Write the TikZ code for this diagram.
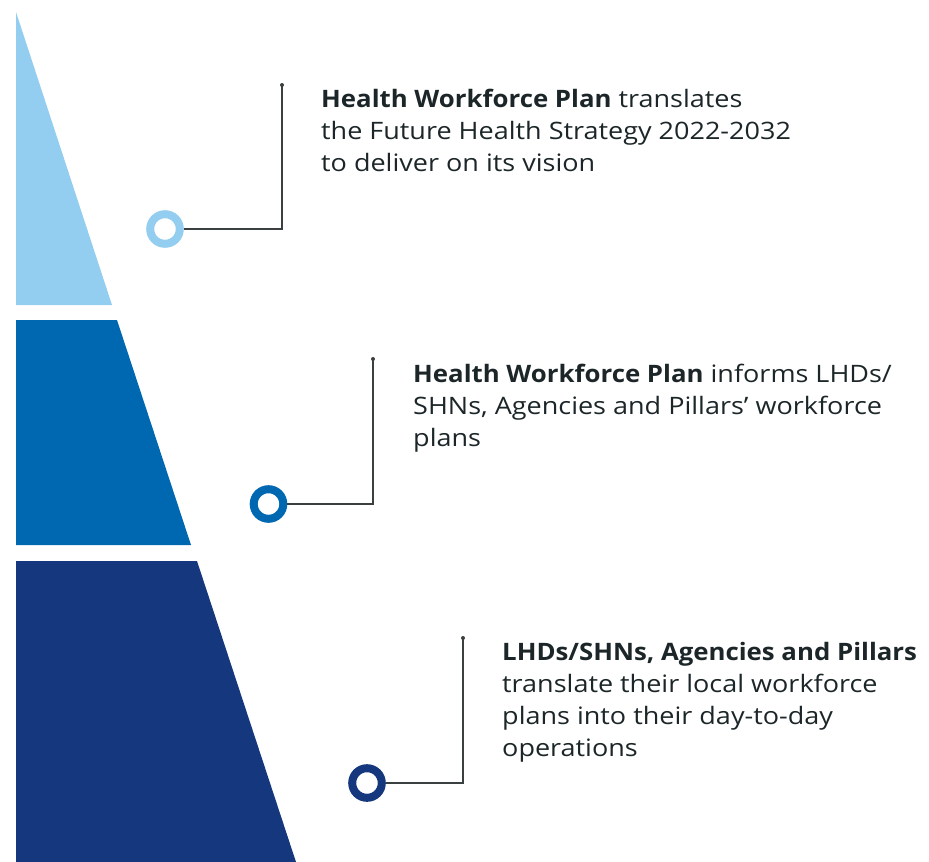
\documentclass[tikz,border=0pt]{standalone}
\usepackage{fontspec}
\setmainfont{Open Sans}[UprightFeatures={FakeStretch=1.125},BoldFeatures={FakeStretch=1.075}]
\definecolor{lightb}{HTML}{93CDEF}
\definecolor{midb}{HTML}{0067B1}
\definecolor{darkb}{HTML}{14377D}
\definecolor{txt}{HTML}{1C2628}
\definecolor{conn}{HTML}{3A3F40}
\begin{document}
\begin{tikzpicture}[x=1pt,y=-1pt,
  ring/.style={circle,draw=#1,line width=8pt,minimum size=29.6pt,inner sep=0pt},
  conline/.style={draw=conn,line width=1.2pt},
  dotpt/.style={circle,fill=conn,inner sep=0pt,minimum size=4pt},
  label/.style={anchor=base west,align=left,inner sep=0pt,text=txt,font=\fontsize{24}{32}\selectfont}]
\useasboundingbox (0,0) rectangle (929,862);
% pyramid pieces
\fill[lightb] (16,12) -- (16,305) -- (112,305) -- cycle;
\fill[midb] (16,320) -- (117,320) -- (191,545) -- (16,545) -- cycle;
\fill[darkb] (16,561) -- (197,561) -- (296,862) -- (16,862) -- cycle;
% rings
\node[ring=lightb] (r1) at (165,229) {};
\node[ring=midb] (r2) at (268.5,504) {};
\node[ring=darkb] (r3) at (367,783) {};
% dots
\node[dotpt] (d1) at (282,85) {};
\node[dotpt] (d2) at (373,359) {};
\node[dotpt] (d3) at (463,638) {};
% connectors
\draw[conline] (r1.east) -| (d1.center);
\draw[conline] (r2.east) -| (d2.center);
\draw[conline] (r3.east) -| (d3.center);
% texts (anchored at the baseline of the last line)
\node[label] (t1) at (321,171) {\textbf{Health Workforce Plan} translates\\the Future Health Strategy 2022-2032\\to deliver on its vision};
\node[label] (t2) at (413,446) {\textbf{Health Workforce Plan} informs LHDs/\\SHNs, Agencies and Pillars’ workforce\\plans};
\node[label] (t3) at (502,756) {\textbf{LHDs/SHNs, Agencies and Pillars}\\translate their local workforce\\plans into their day-to-day\\operations};
\end{tikzpicture}
\end{document}
